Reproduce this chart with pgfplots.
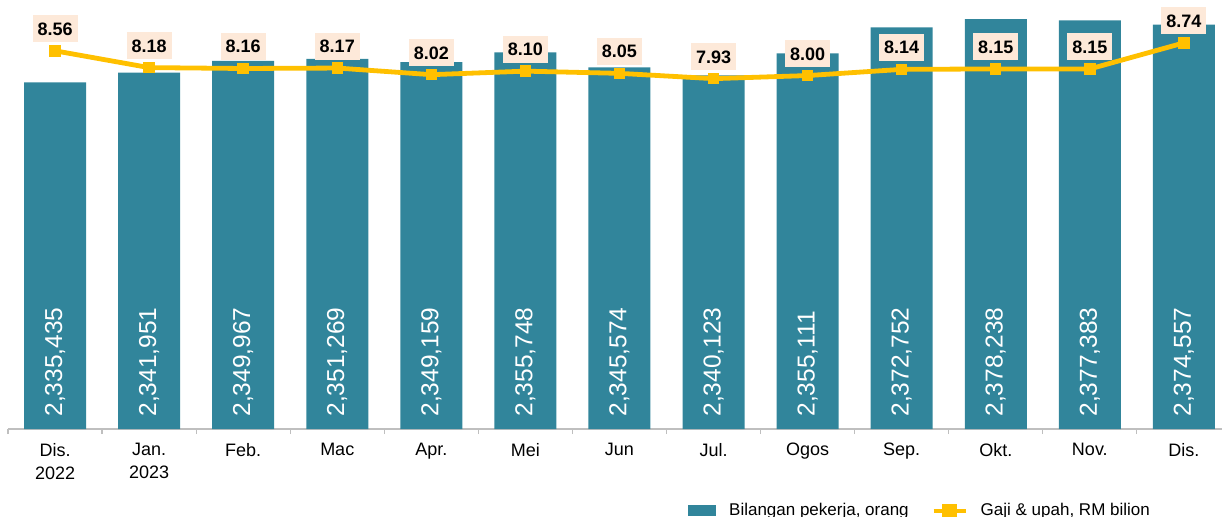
\documentclass[border=0pt]{standalone}
\usepackage{fontspec}
\setmainfont{Liberation Sans}
\usepackage{pgfplots}
\usepackage{pgfplotstable}
\pgfplotsset{compat=1.18}

\definecolor{barteal}{RGB}{49,133,155}
\definecolor{gold}{RGB}{255,192,0}
\definecolor{peach}{RGB}{253,233,217}
\definecolor{axgrey}{RGB}{191,191,191}

% month, workers, label text, wages (RM billion)
\pgfplotstableread{
x pekerja label gaji
0  2335435 2,335,435 8.56
1  2341951 2,341,951 8.18
2  2349967 2,349,967 8.16
3  2351269 2,351,269 8.17
4  2349159 2,349,159 8.02
5  2355748 2,355,748 8.10
6  2345574 2,345,574 8.05
7  2340123 2,340,123 7.93
8  2355111 2,355,111 8.00
9  2372752 2,372,752 8.14
10 2378238 2,378,238 8.15
11 2377383 2,377,383 8.15
12 2374557 2,374,557 8.74
}\data

\pgfplotsset{
  common/.style={
    scale only axis, width=607pt, height=214.5pt,
    at={(0,0)}, anchor=south west,
    xmin=-0.5, xmax=12.405,
  },
}

\begin{document}
\begin{tikzpicture}
\begin{axis}[common,
  ymin=2100000, ymax=2391300,
  axis x line*=bottom, axis y line=none,
  x axis line style={axgrey, line width=0.7pt},
  xtick={0,...,12},
  xticklabels={{Dis.\\2022},{Jan.\\2023},Feb.,Mac,Apr.,Mei,Jun,Jul.,Ogos,Sep.,Okt.,Nov.,Dis.},
  major tick length=0pt,
  minor xtick={-0.5,0.5,...,12.5},
  minor tick length=2.5pt, tick align=outside,
  minor tick style={axgrey, line width=0.6pt},
  xticklabel style={font=\fontsize{9}{11.5}\selectfont, align=center,
                    anchor=north, inner sep=0pt, yshift=-7pt},
]
  \addplot[ybar, bar width=31pt, fill=barteal, draw=none]
    table[x=x, y=pekerja]{\data};
  \addplot[draw=none, mark=none, nodes near coords, point meta=explicit symbolic,
    nodes near coords style={rotate=90, anchor=west, text=white,
      font=\fontsize{12.25}{14}\selectfont, inner xsep=6pt, inner ysep=0pt}]
    table[x=x, y expr=2100000, meta=label]{\data};
\end{axis}

\begin{axis}[common,
  ymin=0, ymax=9.71,
  axis lines=none, clip=false,
  legend columns=2,
  legend style={at={(0.5601,-0.19)}, anchor=west, draw=none, fill=none,
    inner sep=0pt, font=\fontsize{8.5}{10}\selectfont,
    nodes={inner sep=0pt},
    /tikz/every odd column/.append style={column sep=6.5pt},
    /tikz/every even column/.append style={column sep=11.5pt}},
]
  \addlegendimage{legend image code/.code={\fill[barteal] (0pt,-2.5pt) rectangle (13.5pt,2.5pt);}}
  \addlegendentry{Bilangan pekerja, orang}
  \addplot[color=gold, line width=2.4pt, mark=square*, mark size=2.6pt,
    mark options={fill=gold, line width=0pt},
    legend image code/.code={\draw[gold, line width=2pt] (0pt,0pt) -- (16pt,0pt);
       \fill[gold] (5.5pt,-2.2pt) rectangle (10.5pt,2.2pt);},
    nodes near coords, point meta=y,
    nodes near coords style={anchor=center, yshift=11pt, fill=peach, text=black,
      font=\fontsize{9}{10}\selectfont\bfseries,
      /pgf/number format/.cd, fixed, fixed zerofill, precision=2,
      assume math mode=true, /tikz/.cd,
      text height=6.5pt, text depth=0pt, inner xsep=2.5pt, inner ysep=3.5pt}]
    table[x=x, y=gaji]{\data};
  \addlegendentry{Gaji \& upah, RM bilion}
\end{axis}
\pgfresetboundingbox
\useasboundingbox (-4pt,-43.5pt) rectangle (607pt,214.5pt);
\end{tikzpicture}
\end{document}
